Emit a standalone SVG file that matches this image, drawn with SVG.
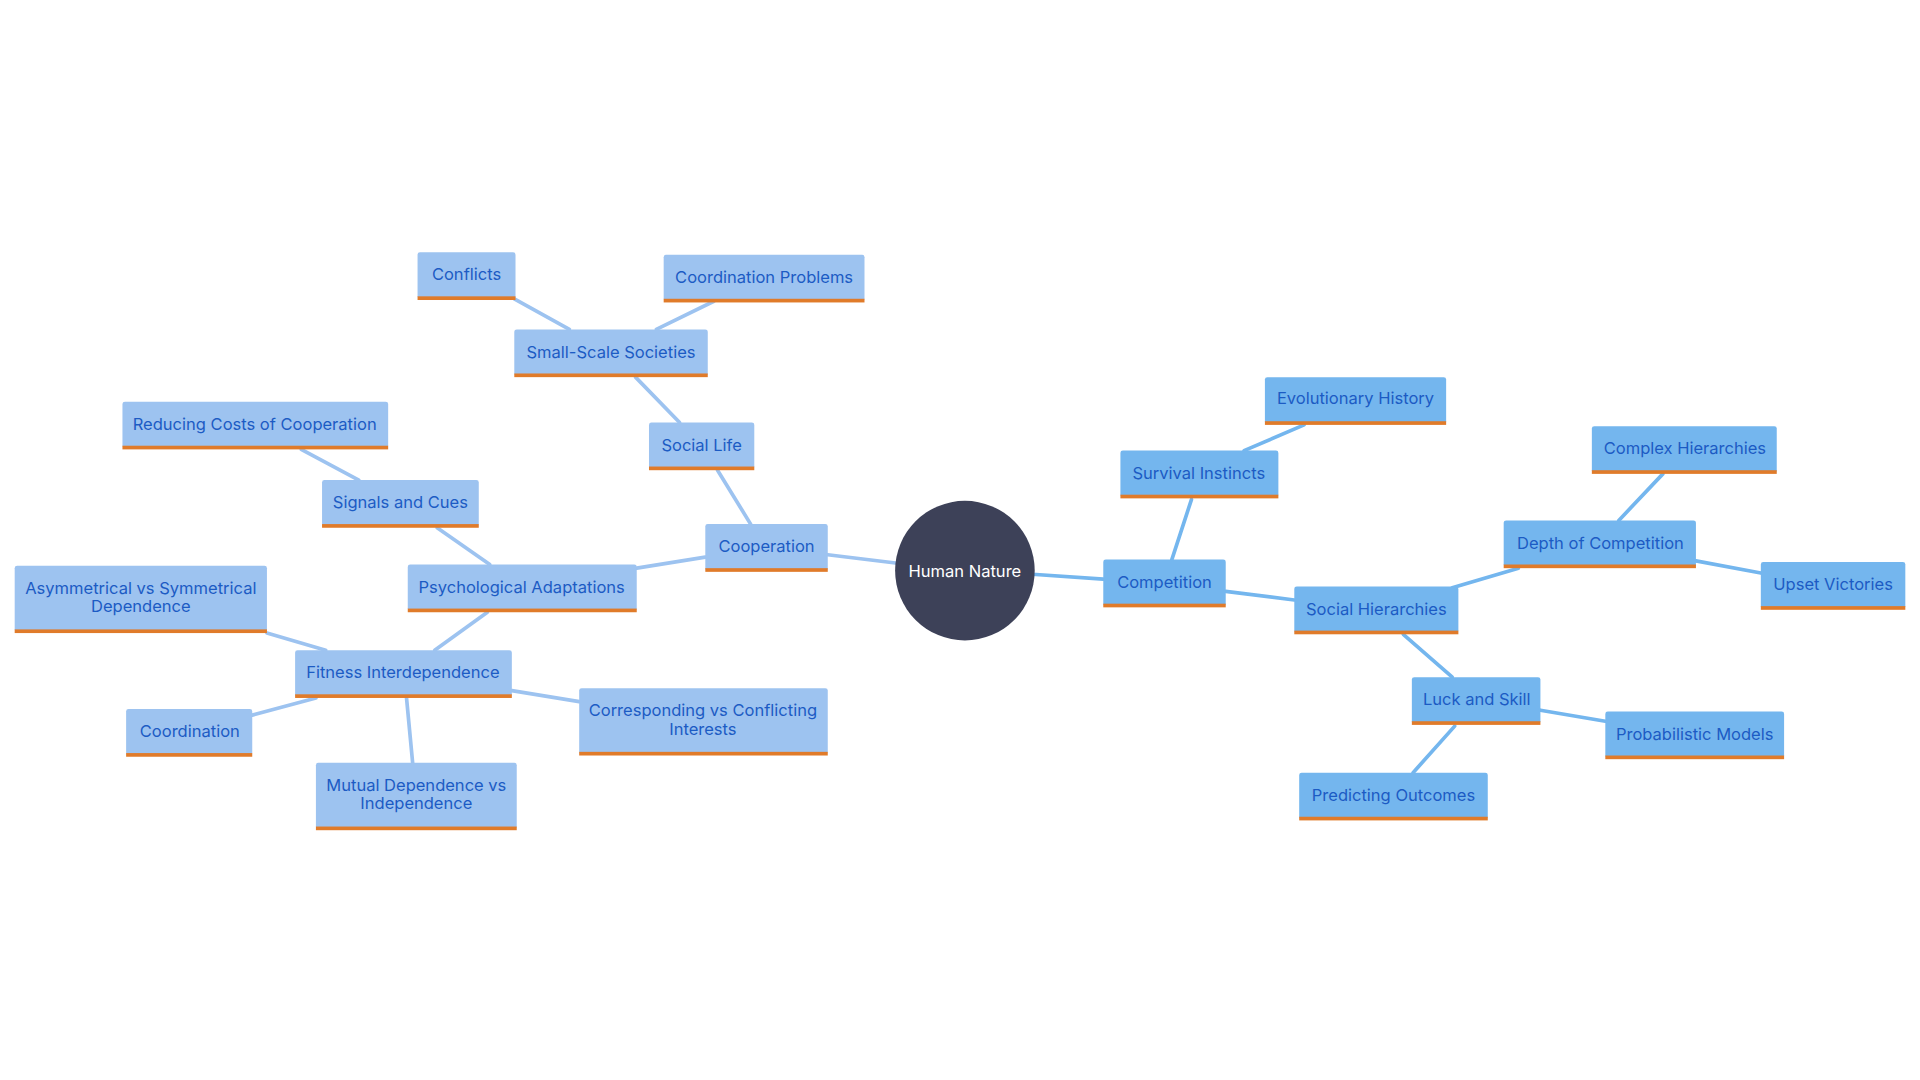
<svg xmlns="http://www.w3.org/2000/svg" width="1920" height="1080" viewBox="0 0 1920 1080">
<style>
.l rect.b{fill:#9DC3F0}
.r rect.b{fill:#74B6EE}
rect.u{fill:#E07B2A}
text{font-family:Inter,"Noto Sans",sans-serif;font-size:13.5px;fill:#1C5BC4;text-anchor:middle}
#conn line{stroke-width:3;stroke-linecap:round}
.cl{stroke:#9DC3F0}.cr{stroke:#74B6EE}
</style>
<rect width="1920" height="1080" fill="#fff"/>
<g transform="scale(1.2245)">
<g id="conn">
<line class="cl" x1="420" y1="244" x2="465" y2="269"/>
<line class="cl" x1="583" y1="246" x2="536" y2="269"/>
<line class="cl" x1="519" y1="308" x2="555" y2="345"/>
<line class="cl" x1="586" y1="384" x2="613" y2="428"/>
<line class="cl" x1="246" y1="367" x2="293" y2="392"/>
<line class="cl" x1="357" y1="431" x2="400" y2="461"/>
<line class="cl" x1="520" y1="464" x2="576" y2="455"/>
<line class="cl" x1="398" y1="500" x2="355" y2="531"/>
<line class="cl" x1="218" y1="517" x2="266" y2="531"/>
<line class="cl" x1="418" y1="564" x2="473" y2="573"/>
<line class="cl" x1="258" y1="570" x2="206" y2="584"/>
<line class="cl" x1="332" y1="570" x2="337" y2="623"/>
<line class="cl" x1="676" y1="453" x2="733" y2="460"/>
<line class="cr" x1="843" y1="469" x2="901" y2="473"/>
<line class="cr" x1="957" y1="457" x2="973" y2="408"/>
<line class="cr" x1="1016" y1="368" x2="1065" y2="347"/>
<line class="cr" x1="1001" y1="483" x2="1057" y2="490"/>
<line class="cr" x1="1186" y1="480" x2="1240" y2="464"/>
<line class="cr" x1="1322" y1="425" x2="1358" y2="387"/>
<line class="cr" x1="1385" y1="458" x2="1438" y2="468"/>
<line class="cr" x1="1146" y1="518" x2="1186" y2="553"/>
<line class="cr" x1="1258" y1="580" x2="1311" y2="589"/>
<line class="cr" x1="1188" y1="593" x2="1154" y2="631"/>
</g>
<g id="human-nature"><circle cx="788" cy="466" r="57" fill="#3D4158"/><text x="788" y="471" style="fill:#fff">Human Nature</text></g>
<g class="l">
<g id="conflicts"><rect class="b" x="341" y="206" width="80" height="38" rx="2"/><rect class="u" x="341" y="242" width="80" height="3"/><text x="381" y="229">Conflicts</text></g>
<g id="coordination-problems"><rect class="b" x="542" y="208" width="164" height="38" rx="2"/><rect class="u" x="542" y="244" width="164" height="3"/><text x="624" y="231">Coordination Problems</text></g>
<g id="small-scale"><rect class="b" x="420" y="269" width="158" height="38" rx="2"/><rect class="u" x="420" y="305" width="158" height="3"/><text x="499" y="292">Small-Scale Societies</text></g>
<g id="social-life"><rect class="b" x="530" y="345" width="86" height="38" rx="2"/><rect class="u" x="530" y="381" width="86" height="3"/><text x="573" y="368">Social Life</text></g>
<g id="reducing"><rect class="b" x="100" y="328" width="217" height="38" rx="2"/><rect class="u" x="100" y="364" width="217" height="3"/><text x="208" y="351">Reducing Costs of Cooperation</text></g>
<g id="signals"><rect class="b" x="263" y="392" width="128" height="38" rx="2"/><rect class="u" x="263" y="428" width="128" height="3"/><text x="327" y="415">Signals and Cues</text></g>
<g id="cooperation"><rect class="b" x="576" y="428" width="100" height="38" rx="2"/><rect class="u" x="576" y="464" width="100" height="3"/><text x="626" y="451">Cooperation</text></g>
<g id="psych"><rect class="b" x="333" y="461" width="187" height="38" rx="2"/><rect class="u" x="333" y="497" width="187" height="3"/><text x="426" y="484">Psychological Adaptations</text></g>
<g id="asym"><rect class="b" x="12" y="462" width="206" height="54" rx="2"/><rect class="u" x="12" y="514" width="206" height="3"/><text x="115" y="485">Asymmetrical vs Symmetrical</text><text x="115" y="500">Dependence</text></g>
<g id="fitness"><rect class="b" x="241" y="531" width="177" height="38" rx="2"/><rect class="u" x="241" y="567" width="177" height="3"/><text x="329" y="554">Fitness Interdependence</text></g>
<g id="corresponding"><rect class="b" x="473" y="562" width="203" height="54" rx="2"/><rect class="u" x="473" y="614" width="203" height="3"/><text x="574" y="585">Corresponding vs Conflicting</text><text x="574" y="600">Interests</text></g>
<g id="coordination"><rect class="b" x="103" y="579" width="103" height="38" rx="2"/><rect class="u" x="103" y="615" width="103" height="3"/><text x="155" y="602">Coordination</text></g>
<g id="mutual"><rect class="b" x="258" y="623" width="164" height="54" rx="2"/><rect class="u" x="258" y="675" width="164" height="3"/><text x="340" y="646">Mutual Dependence vs</text><text x="340" y="661">Independence</text></g>
</g>
<g class="r">
<g id="competition"><rect class="b" x="901" y="457" width="100" height="38" rx="2"/><rect class="u" x="901" y="493" width="100" height="3"/><text x="951" y="480">Competition</text></g>
<g id="survival"><rect class="b" x="915" y="368" width="129" height="38" rx="2"/><rect class="u" x="915" y="404" width="129" height="3"/><text x="979" y="391">Survival Instincts</text></g>
<g id="evolutionary"><rect class="b" x="1033" y="308" width="148" height="38" rx="2"/><rect class="u" x="1033" y="344" width="148" height="3"/><text x="1107" y="330">Evolutionary History</text></g>
<g id="social-hier"><rect class="b" x="1057" y="479" width="134" height="38" rx="2"/><rect class="u" x="1057" y="515" width="134" height="3"/><text x="1124" y="502">Social Hierarchies</text></g>
<g id="complex"><rect class="b" x="1300" y="348" width="151" height="38" rx="2"/><rect class="u" x="1300" y="384" width="151" height="3"/><text x="1376" y="371">Complex Hierarchies</text></g>
<g id="depth"><rect class="b" x="1228" y="425" width="157" height="38" rx="2"/><rect class="u" x="1228" y="461" width="157" height="3"/><text x="1307" y="448">Depth of Competition</text></g>
<g id="upset"><rect class="b" x="1438" y="459" width="118" height="38" rx="2"/><rect class="u" x="1438" y="495" width="118" height="3"/><text x="1497" y="482">Upset Victories</text></g>
<g id="luck"><rect class="b" x="1153" y="553" width="105" height="38" rx="2"/><rect class="u" x="1153" y="589" width="105" height="3"/><text x="1206" y="576">Luck and Skill</text></g>
<g id="probabilistic"><rect class="b" x="1311" y="581" width="146" height="38" rx="2"/><rect class="u" x="1311" y="617" width="146" height="3"/><text x="1384" y="604">Probabilistic Models</text></g>
<g id="predicting"><rect class="b" x="1061" y="631" width="154" height="38" rx="2"/><rect class="u" x="1061" y="667" width="154" height="3"/><text x="1138" y="654">Predicting Outcomes</text></g>
</g>
</g>
</svg>
